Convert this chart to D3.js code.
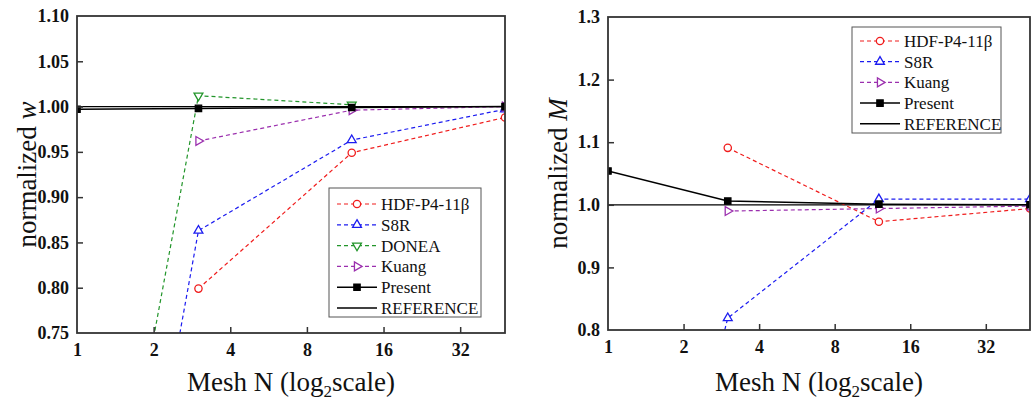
<!DOCTYPE html>
<html>
<head>
<meta charset="utf-8">
<script src="https://cdn.jsdelivr.net/npm/d3@7"></script>
<style>
body { margin: 0; background: #fff; }
svg text { font-family: "Liberation Serif", "Times New Roman", serif; }
</style>
</head>
<body>
<svg id="chart" width="1031" height="402"></svg>
<script>
// mesh levels and series
var meshTicks = [1, 2, 4, 8, 16, 32];

var wHdfN = [3, 12, 48],        wHdf = [0.799, 0.949, 0.988];
var wS8rN = [2, 3, 12, 48],     wS8r = [0.59, 0.863, 0.963, 0.997];
var wDoneaN = [2, 3, 12],       wDonea = [0.745, 1.012, 1.002];
var wKuangN = [3, 12, 48],      wKuang = [0.962, 0.996, 1.0];
var wPresentN = [1, 3, 12, 48], wPresent = [0.997, 0.998, 0.999, 1.0];
var wTicks = [0.75, 0.80, 0.85, 0.90, 0.95, 1.00, 1.05, 1.10];

var mHdfN = [3, 12, 48],        mHdf = [1.091, 0.973, 0.994];
var mS8rN = [2, 3, 12, 48],     mS8r = [0.54, 0.819, 1.009, 1.009];
var mKuangN = [3, 12, 48],      mKuang = [0.990, 0.994, 0.998];
var mPresentN = [1, 3, 12, 48], mPresent = [1.054, 1.006, 1.001, 1.0];
var mTicks = [0.8, 0.9, 1.0, 1.1, 1.2, 1.3];

var refN = [1, 48], refValue = [1.0, 1.0];

var svg = d3.select("#chart");

function zip(xs, ys) {
  return xs.map(function (x, i) { return [x, ys[i]]; });
}

function markerPath(shape) {
  if (shape == "circle") return d3.symbol(d3.symbolCircle, 42)();
  if (shape == "square") return d3.symbol(d3.symbolSquare, 40)();
  return d3.symbol(d3.symbolTriangle, 34)();
}
function markerRotate(shape) {
  if (shape == "down") return 180;
  if (shape == "right") return 90;
  return 0;
}

function drawPanel(p) {
  var x = d3.scaleLog().base(2).domain([1, 48]).range([p.left, p.right]);
  var y = d3.scaleLinear().domain(p.yDomain).range([p.bottom, p.top]);
  var g = svg.append("g");

  var clipId = "clip" + p.id;
  g.append("clipPath").attr("id", clipId)
    .append("rect")
    .attr("x", p.left).attr("y", p.top)
    .attr("width", p.right - p.left).attr("height", p.bottom - p.top);

  var plot = g.append("g").attr("clip-path", "url(#" + clipId + ")");
  var line = d3.line().x(function (d) { return x(d[0]); }).y(function (d) { return y(d[1]); });

  // reference line
  plot.append("path")
    .attr("d", line(zip(refN, refValue)))
    .attr("fill", "none").attr("stroke", "#000").attr("stroke-width", 1.3);

  p.series.forEach(function (s) {
    var pts = zip(s.n, s.v);
    plot.append("path")
      .attr("d", line(pts))
      .attr("fill", "none")
      .attr("stroke", s.color)
      .attr("stroke-width", s.dash ? 1.2 : 1.5)
      .attr("stroke-dasharray", s.dash ? "4,3" : null);
    plot.selectAll(null).data(pts).enter().append("path")
      .attr("d", markerPath(s.shape))
      .attr("transform", function (d) {
        return "translate(" + x(d[0]) + "," + y(d[1]) + ") rotate(" + markerRotate(s.shape) + ")";
      })
      .attr("fill", s.shape == "square" ? s.color : "#fff")
      .attr("stroke", s.color)
      .attr("stroke-width", 1.3);
  });

  // axes, ticks pointing inward
  var xAxis = d3.axisBottom(x).tickValues(meshTicks).tickSizeInner(-6).tickSizeOuter(0)
    .tickPadding(10).tickFormat(d3.format("d"));
  var gx = g.append("g").attr("transform", "translate(0," + p.bottom + ")").call(xAxis);
  var yAxis = d3.axisLeft(y).tickValues(p.yTicks).tickSizeInner(-6).tickSizeOuter(0)
    .tickPadding(8).tickFormat(d3.format(p.yFormat));
  var gy = g.append("g").attr("transform", "translate(" + p.left + ",0)").call(yAxis);
  [gx, gy].forEach(function (a) {
    a.select(".domain").remove();
    a.selectAll(".tick line").attr("stroke", "#333").attr("stroke-width", 1.5);
    a.selectAll(".tick text")
      .attr("fill", "#111")
      .style("font-family", "'Liberation Serif', serif")
      .style("font-size", "18px").style("font-weight", "bold");
  });
  gx.selectAll(".tick").filter(function (d) { return d == 1; }).select("line").remove();
  gy.selectAll(".tick").filter(function (d, i) { return i == 0 || i == p.yTicks.length - 1; }).select("line").remove();

  g.append("rect")
    .attr("x", p.left).attr("y", p.top)
    .attr("width", p.right - p.left).attr("height", p.bottom - p.top)
    .attr("fill", "none").attr("stroke", "#333").attr("stroke-width", 1.8);

  // axis titles
  var xt = g.append("text")
    .attr("x", (p.left + p.right) / 2).attr("y", 391)
    .attr("text-anchor", "middle").attr("font-size", "27px").attr("fill", "#111");
  xt.append("tspan").text("Mesh N (log");
  xt.append("tspan").attr("font-size", "17px").attr("dy", 6).text("2");
  xt.append("tspan").attr("dy", -6).text("scale)");

  var yt = g.append("text")
    .attr("transform", "translate(" + (p.left - 41) + "," + ((p.top + p.bottom) / 2) + ") rotate(-90)")
    .attr("text-anchor", "middle").attr("font-size", "27px").attr("fill", "#111");
  yt.append("tspan").text("normalized ");
  yt.append("tspan").attr("font-style", "italic").text(p.yVar);

  // legend
  var lg = g.append("g");
  lg.append("rect")
    .attr("x", p.legend.x).attr("y", p.legend.y)
    .attr("width", p.legend.w).attr("height", p.legend.h)
    .attr("fill", "#fff").attr("stroke", "#555").attr("stroke-width", 1);
  var items = p.series.concat([{ name: "REFERENCE", color: "#000", dash: false, shape: null }]);
  items.forEach(function (s, i) {
    var ly = p.legend.row0 + i * p.legend.step;
    var x0 = p.legend.x + 8, x1 = x0 + 40;
    lg.append("line")
      .attr("x1", x0).attr("x2", x1).attr("y1", ly).attr("y2", ly)
      .attr("stroke", s.color).attr("stroke-width", s.dash ? 1.2 : 1.5)
      .attr("stroke-dasharray", s.dash ? "4,3" : null);
    if (s.shape) {
      lg.append("path")
        .attr("d", markerPath(s.shape))
        .attr("transform", "translate(" + ((x0 + x1) / 2) + "," + ly + ") rotate(" + markerRotate(s.shape) + ")")
        .attr("fill", s.shape == "square" ? s.color : "#fff")
        .attr("stroke", s.color).attr("stroke-width", 1.3);
    }
    lg.append("text")
      .attr("x", x1 + 4).attr("y", ly + 6)
      .attr("font-size", "17px").attr("fill", "#111")
      .text(s.name);
  });
}

var red = "#f01c1c", blue = "#1c1cf0", green = "#22952a", purple = "#9b2fae";

drawPanel({
  id: "w", left: 77, right: 505, top: 16, bottom: 333,
  yDomain: [0.75, 1.10], yTicks: wTicks, yFormat: ".2f", yVar: "w",
  legend: { x: 329, y: 188, w: 152, h: 129, row0: 204, step: 20.8 },
  series: [
    { name: "HDF-P4-11\u03b2", n: wHdfN, v: wHdf, color: red, dash: true, shape: "circle" },
    { name: "S8R", n: wS8rN, v: wS8r, color: blue, dash: true, shape: "up" },
    { name: "DONEA", n: wDoneaN, v: wDonea, color: green, dash: true, shape: "down" },
    { name: "Kuang", n: wKuangN, v: wKuang, color: purple, dash: true, shape: "right" },
    { name: "Present", n: wPresentN, v: wPresent, color: "#000", dash: false, shape: "square" }
  ]
});

drawPanel({
  id: "m", left: 608, right: 1030, top: 17, bottom: 330,
  yDomain: [0.8, 1.3], yTicks: mTicks, yFormat: ".1f", yVar: "M",
  legend: { x: 852, y: 27, w: 149, h: 106, row0: 41, step: 20.7 },
  series: [
    { name: "HDF-P4-11\u03b2", n: mHdfN, v: mHdf, color: red, dash: true, shape: "circle" },
    { name: "S8R", n: mS8rN, v: mS8r, color: blue, dash: true, shape: "up" },
    { name: "Kuang", n: mKuangN, v: mKuang, color: purple, dash: true, shape: "right" },
    { name: "Present", n: mPresentN, v: mPresent, color: "#000", dash: false, shape: "square" }
  ]
});
</script>
</body>
</html>
